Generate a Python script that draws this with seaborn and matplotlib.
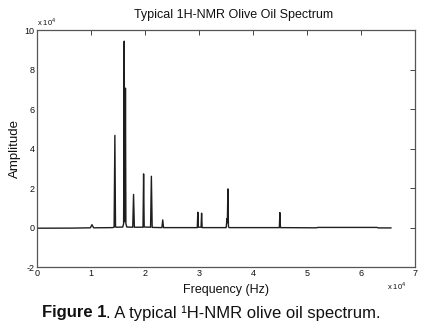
import matplotlib
matplotlib.use("Agg")
import matplotlib.pyplot as plt
import seaborn as sns
from matplotlib.ticker import FuncFormatter

# spectrum points (Hz, amplitude)
freq_hz = [0, 6500, 9900, 10200, 10500, 14000, 14300, 14440, 14560, 14800,
           15900, 16060, 16170, 16260, 16330, 16400, 16480, 16650,
           17750, 17900, 18050, 19650, 19760, 19870, 21050, 21200, 21350,
           23150, 23300, 23450, 29700, 29800, 29900, 30400, 30500, 30600,
           35050, 35200, 35270, 35370, 35470, 35600, 44900, 45000, 45100,
           51800, 52000, 63000, 63200, 65600]
amplitude = [-300, -250, -100, 1500, -100, 0, 200, 46700, 300, 200,
             300, 2000, 94400, 3000, 5000, 70600, 2000, 300,
             200, 16800, 200, 200, 27200, 300, 200, 26000, 100,
             0, 3900, 0, 0, 7800, 200, 200, 7300, 0,
             0, 4500, 2500, 19600, 500, 0, 0, 7600, 0,
             -100, 100, 100, -150, -150]

x_ticks = [0, 1e4, 2e4, 3e4, 4e4, 5e4, 6e4, 7e4]
y_ticks = [-2e4, 0, 2e4, 4e4, 6e4, 8e4, 10e4]

sns.set_theme(style="white")
plt.rcParams["font.family"] = ["Liberation Sans", "DejaVu Sans"]
plt.rcParams["mathtext.fontset"] = "custom"
plt.rcParams["mathtext.rm"] = "Liberation Sans"

fig = plt.figure(figsize=(4.34, 3.31), dpi=100)
ax = fig.add_axes([0.085, 0.193, 0.871, 0.716])

sns.lineplot(x=freq_hz, y=amplitude, ax=ax, color="#1e1e1e", linewidth=1.0,
             estimator=None, sort=False)

ax.set_xlim(0, 7e4)
ax.set_ylim(-2e4, 10e4)
ax.set_xticks(x_ticks)
ax.set_yticks(y_ticks)
fmt = FuncFormatter(lambda v, p: f"{v / 1e4:g}")
ax.xaxis.set_major_formatter(fmt)
ax.yaxis.set_major_formatter(fmt)
ax.tick_params(direction="in", length=3.5, width=0.7, colors="#444",
               labelcolor="#111", labelsize=6.5, pad=1.5,
               top=True, right=True)
for s in ax.spines.values():
    s.set_color("#555")
    s.set_linewidth(0.9)

ax.set_xlabel("Frequency (Hz)", fontsize=9, color="#111", labelpad=4)
ax.set_ylabel("Amplitude", fontsize=9.5, color="#111", labelpad=3)

fig.text(0.539, 0.955, "Typical 1H-NMR Olive Oil Spectrum", ha="center",
         va="center", fontsize=9, color="#111")
fig.text(37 / 434, 1 - 22 / 331, r"x 10$^{4}$", ha="left", va="center",
         fontsize=5.5, color="#111")
fig.text(387 / 434, 1 - 286 / 331, r"x 10$^{4}$", ha="left", va="center",
         fontsize=5.5, color="#111")

# caption: bold part then regular part right after it
t1 = fig.text(42 / 434, 1 - 313 / 331, "Figure 1", ha="left", va="center",
              fontsize=12, fontweight="bold", color="#111")
fig.canvas.draw()
bb = t1.get_window_extent(fig.canvas.get_renderer())
x_next = bb.x1 / fig.bbox.width
fig.text(x_next, 1 - 313 / 331, ". A typical \u00b9H-NMR olive oil spectrum.",
         ha="left", va="center", fontsize=12, color="#111")

fig.savefig("out.png", dpi=100)
